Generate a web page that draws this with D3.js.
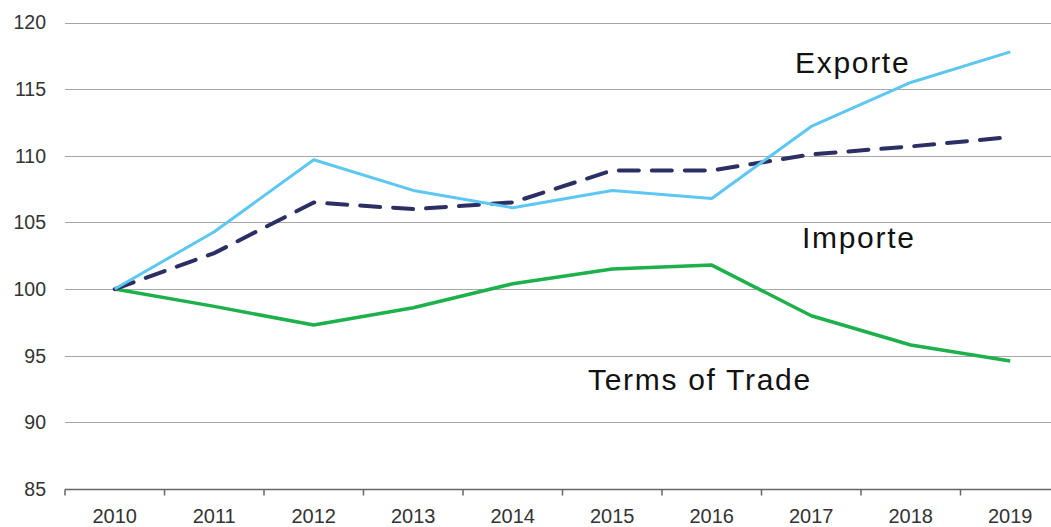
<!DOCTYPE html>
<html>
<head>
<meta charset="utf-8">
<script src="https://cdn.jsdelivr.net/npm/d3@7"></script>
<style>
  body { margin: 0; background: #fff; }
  svg { display: block; }
</style>
</head>
<body>
<div id="chart"></div>
<script>
const W = 1051, H = 527;

const years = ["2010", "2011", "2012", "2013", "2014", "2015", "2016", "2017", "2018", "2019"];
const exporte = [100, 104.3, 109.7, 107.4, 106.1, 107.4, 106.8, 112.2, 115.5, 117.8];
const importe = [100, 102.7, 106.5, 106.0, 106.5, 108.9, 108.9, 110.1, 110.7, 111.4];
const termsOfTrade = [100, 98.7, 97.3, 98.6, 100.4, 101.5, 101.8, 98.0, 95.8, 94.6];
const yTicks = [85, 90, 95, 100, 105, 110, 115, 120];

const svg = d3.select("#chart").append("svg")
    .attr("width", W)
    .attr("height", H);

const x = d3.scaleBand()
    .domain(years)
    .range([65, 1060])
    .padding(0);

const y = d3.scaleLinear()
    .domain([85, 120])
    .range([489, 22.5]);

const font = "'Liberation Sans', Arial, sans-serif";

// grid lines
svg.append("g")
    .selectAll("line")
    .data(yTicks.filter(d => d !== 85))
    .join("line")
    .attr("x1", 65)
    .attr("x2", W)
    .attr("y1", d => Math.round(y(d)) + 0.5)
    .attr("y2", d => Math.round(y(d)) + 0.5)
    .attr("stroke", "#a6a6a6")
    .attr("stroke-width", 1.2);

// y labels
svg.append("g")
    .selectAll("text")
    .data(yTicks)
    .join("text")
    .attr("x", 46)
    .attr("y", d => y(d))
    .attr("dy", "0.35em")
    .attr("text-anchor", "end")
    .attr("font-family", font)
    .attr("font-size", "19.5px")
    .attr("fill", "#333")
    .text(d => d);

// x axis
const xGroup = svg.append("g")
    .attr("transform", `translate(0,${Math.round(y(85)) + 0.5})`);

xGroup.append("line")
    .attr("x1", 65)
    .attr("x2", W)
    .attr("stroke", "#666")
    .attr("stroke-width", 1.5);

xGroup.selectAll(".tick")
    .data(years)
    .join("line")
    .attr("class", "tick")
    .attr("x1", d => x(d))
    .attr("x2", d => x(d))
    .attr("y1", 0)
    .attr("y2", 6)
    .attr("stroke", "#666")
    .attr("stroke-width", 1.5);

xGroup.selectAll("text")
    .data(years)
    .join("text")
    .attr("x", d => x(d) + x.bandwidth() / 2)
    .attr("y", 33)
    .attr("text-anchor", "middle")
    .attr("font-family", font)
    .attr("font-size", "20px")
    .attr("fill", "#333")
    .text(d => d);

const line = d3.line()
    .x((d, i) => x(years[i]) + x.bandwidth() / 2)
    .y(d => y(d));

svg.append("path")
    .attr("d", line(termsOfTrade))
    .attr("fill", "none")
    .attr("stroke", "#1db04b")
    .attr("stroke-width", 3.5)
    .attr("stroke-linejoin", "round");

svg.append("path")
    .attr("d", line(importe))
    .attr("fill", "none")
    .attr("stroke", "#2c2f63")
    .attr("stroke-width", 4)
    .attr("stroke-dasharray", "20,13")
    .attr("stroke-linecap", "round");

svg.append("path")
    .attr("d", line(exporte))
    .attr("fill", "none")
    .attr("stroke", "#5cc7f2")
    .attr("stroke-width", 3)
    .attr("stroke-linejoin", "round");

// series labels
const labels = [
    { text: "Exporte", x: 795, y: 73 },
    { text: "Importe", x: 802, y: 248 },
    { text: "Terms of Trade", x: 588, y: 390 }
];

svg.append("g")
    .selectAll("text")
    .data(labels)
    .join("text")
    .attr("x", d => d.x)
    .attr("y", d => d.y)
    .attr("font-family", font)
    .attr("font-size", "30px")
    .attr("letter-spacing", "1.7px")
    .attr("fill", "#111")
    .text(d => d.text);
</script>
</body>
</html>
